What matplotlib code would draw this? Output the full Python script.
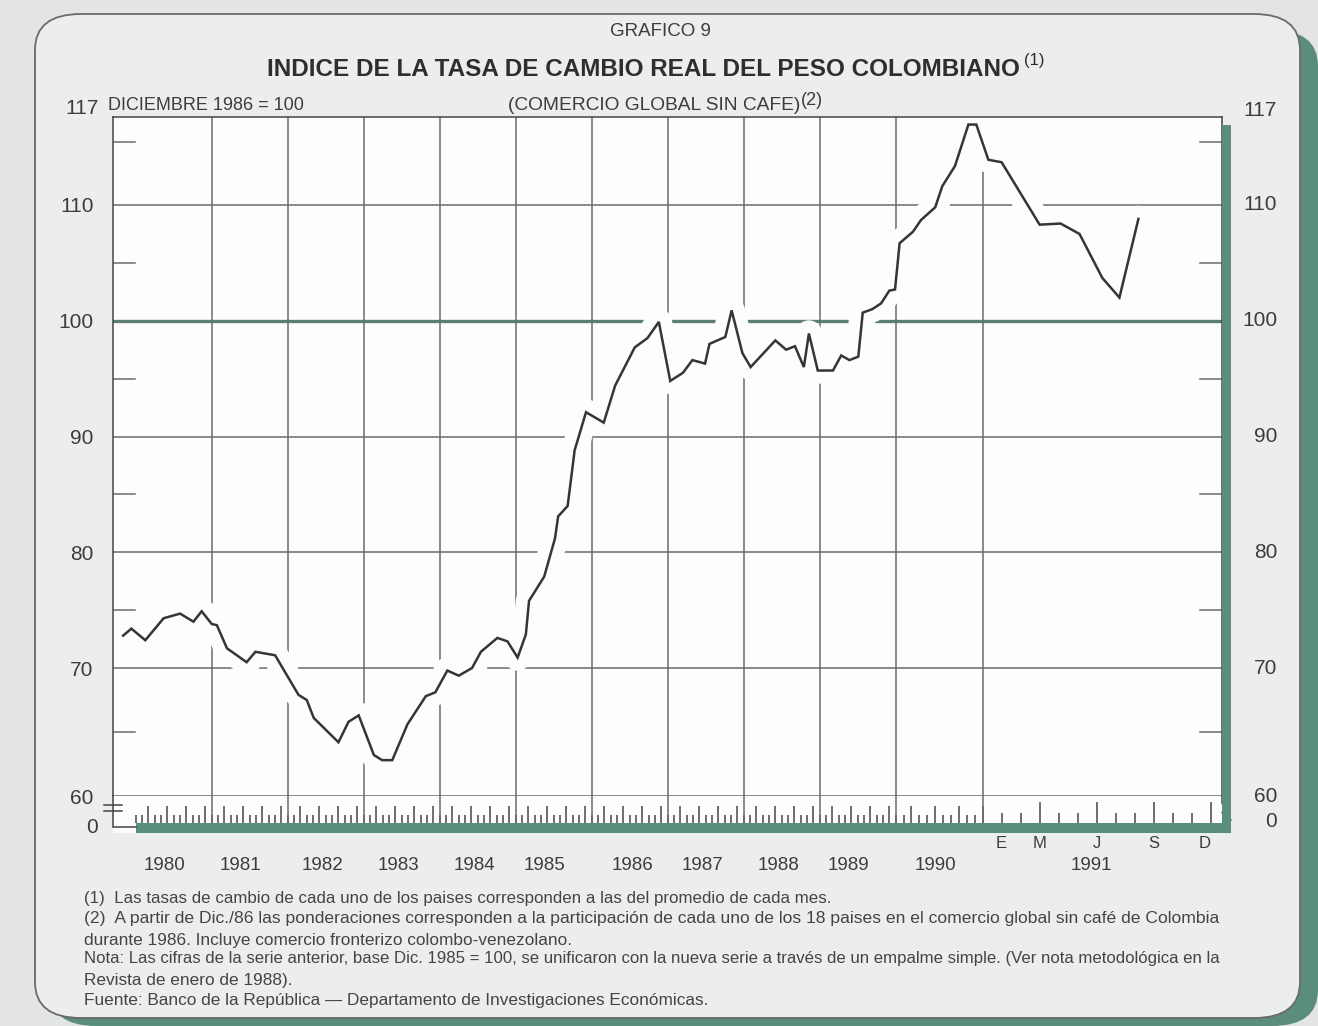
import numpy as np
import matplotlib
matplotlib.use('Agg')
import matplotlib.pyplot as plt
import matplotlib.transforms as mtransforms
from matplotlib.patches import FancyBboxPatch, Rectangle

plt.rcParams['font.family'] = ['Liberation Sans', 'DejaVu Sans']

meses = [-2.0, -0.7, 1.5, 4.4, 7.0, 9.1, 10.4, 12.0, 12.8, 14.4, 17.5, 18.9,
         22.0, 25.7, 27.0, 28.1, 32.0, 33.6, 35.2, 37.6, 38.9, 40.5, 42.9,
         45.8, 47.3, 49.2, 51.0, 53.1, 54.5, 57.1, 58.7, 60.3, 61.6, 62.1,
         64.5, 66.2, 66.7, 68.2, 69.3, 71.1, 73.9, 75.7, 78.8, 80.8, 82.6,
         84.4, 86.4, 87.9, 89.9, 90.6, 93.1, 94.1, 95.8, 97.1, 101.0, 102.7,
         104.1, 105.5, 106.3, 107.7, 110.1, 111.4, 112.7, 114.1, 114.8, 116.3,
         117.7, 119.0, 119.9, 120.5, 122.2, 123.2, 125.0, 125.9, 127.5, 129.2,
         130.2, 131.3, 132.0, 134.0, 135.1, 136.1, 137.3, 138.2, 139.2]
indice = [72.8, 73.4, 72.4, 74.3, 74.7, 74.0, 74.9, 73.8, 73.7, 71.7, 70.5, 71.4,
          71.1, 67.9, 67.5, 66.1, 64.2, 65.8, 66.3, 63.2, 62.8, 62.8, 65.6,
          67.8, 68.1, 69.8, 69.4, 70.0, 71.4, 72.6, 72.3, 70.9, 72.9, 75.8,
          77.9, 81.2, 83.1, 84.0, 88.8, 92.1, 91.2, 94.4, 97.7, 98.5, 99.9,
          94.8, 95.5, 96.6, 96.3, 98.0, 98.6, 100.9, 97.2, 96.0, 98.3, 97.5,
          97.8, 96.0, 98.9, 95.7, 95.7, 97.0, 96.6, 96.9, 100.7, 101.0,
          101.5, 102.6, 102.7, 106.7, 107.7, 108.7, 109.8, 111.5, 113.1, 116.4,
          116.4, 113.6, 113.4, 108.3, 108.4, 107.5, 103.7, 102.0, 108.8]

anios = ['1980', '1981', '1982', '1983', '1984', '1985', '1986', '1987',
         '1988', '1989', '1990', '1991']
mes_anio = [4.5, 16.5, 29.5, 41.5, 53.5, 64.5, 78.5, 89.5, 101.5, 112.5, 125.0, 136.7]
lim_anios = [12, 24, 36, 48, 60, 72, 84, 96, 108, 120, 131]
meses_91 = ['E', 'M', 'J', 'S', 'D']
pos_meses_91 = [132, 134, 137, 140, 142.7]
grid_y = [70, 80, 90, 110]
menor_y = [65, 75, 85, 95, 105, 115]
etiq_y = [60, 70, 80, 90, 100, 110]

notas = [
    "(1)  Las tasas de cambio de cada uno de los paises corresponden a las del promedio de cada mes.",
    "(2)  A partir de Dic./86 las ponderaciones corresponden a la participación de cada uno de los 18 paises en el comercio global sin café de Colombia",
    "durante 1986. Incluye comercio fronterizo colombo-venezolano.",
    "Nota: Las cifras de la serie anterior, base Dic. 1985 = 100, se unificaron con la nueva serie a través de un empalme simple. (Ver nota metodológica en la",
    "Revista de enero de 1988).",
    "Fuente: Banco de la República — Departamento de Investigaciones Económicas.",
]
y_notas = [899, 919, 940, 959, 980, 1000]
tam_notas = [12.2, 12.6, 12.4, 12.1, 12.4, 12.4]

VERDE = '#5b8d7d'
VERDE_LINEA = '#5d7f72'
GRIS = '#6b6b6b'
TINTA = '#353535'
TXT = '#3c3c3c'

W, H = 1318, 1026
fig = plt.figure(figsize=(W / 100, H / 100), dpi=100)
fig.patch.set_facecolor('#e2e5e4')


def fx(x):
    return x / W


def fy(y):
    return 1 - y / H


# marco redondeado con sombra verde
fig.patches.append(FancyBboxPatch((fx(50), fy(1026)), fx(1318) - fx(50), fy(30) - fy(1026),
                                  boxstyle='round,pad=0,rounding_size=0.035',
                                  transform=fig.transFigure, fc=VERDE, ec='none', zorder=-3))
fig.patches.append(FancyBboxPatch((fx(35), fy(1018)), fx(1300) - fx(35), fy(14) - fy(1018),
                                  boxstyle='round,pad=0,rounding_size=0.035',
                                  transform=fig.transFigure, fc='#eceeed', ec='#6a6a6a',
                                  lw=1.3, zorder=-2))

ax = fig.add_axes([fx(113), fy(796), fx(1222) - fx(113), fy(117) - fy(796)])
ax2 = fig.add_axes([fx(113), fy(833), fx(1222) - fx(113), fy(796) - fy(833)], sharex=ax)

# escalas del dibujo original: anios 1980-89 parejos, 1990 algo mas ancho, 1991 ampliado
xk_m = [-12, 0, 120, 131, 143, 155]
xk_p = [-76, 0, 760, 847, 1075, 1303]
yk_v = [50, 60, 70, 110, 117, 127]
yk_p = [-128, 0, 128, 591, 679, 805]


def fwd_x(m):
    return np.interp(m, xk_m, xk_p)


def inv_x(p):
    return np.interp(p, xk_p, xk_m)


def fwd_y(v):
    return np.interp(v, yk_v, yk_p)


def inv_y(p):
    return np.interp(p, yk_p, yk_v)


ax.set_xscale('function', functions=(fwd_x, inv_x))
ax.set_yscale('function', functions=(fwd_y, inv_y))
ax.set_xlim(-3.6, 143.6)
ax.set_ylim(60, 117)
ax.set_facecolor('#fdfdfd')
ax2.set_facecolor('#fdfdfd')

for v in grid_y:
    ax.axhline(v, color=GRIS, lw=1.1, zorder=1)
ax.axhline(100, color=VERDE_LINEA, lw=2.4, zorder=1)
for m in lim_anios:
    ax.axvline(m, color=GRIS, lw=1.1, zorder=1)
bl = mtransforms.blended_transform_factory(ax.transAxes, ax.transData)
for v in menor_y:
    ax.plot([0, 0.02], [v, v], color=GRIS, lw=1.1, transform=bl, zorder=1)
    ax.plot([0.98, 1], [v, v], color=GRIS, lw=1.1, transform=bl, zorder=1)

# la linea del dibujo interrumpe la cuadricula a su paso
ax.plot(meses, indice, color='#fdfdfd', lw=19, solid_capstyle='round',
        solid_joinstyle='round', zorder=2)
ax.plot(meses, indice, color=TINTA, lw=1.8, solid_joinstyle='miter', zorder=3)

ax.set_xticks([])
ax.set_yticks(etiq_y, [str(v) for v in etiq_y])
ax.tick_params(axis='y', length=0, pad=14, labelsize=15, labelcolor=TXT)
for v in etiq_y:
    ax.text(1.0497, v, str(v), transform=bl, ha='right', va='center',
            fontsize=15, color=TXT)
ax.annotate('117', xy=(0, 117), xycoords=bl, xytext=(-14, 8), textcoords='offset pixels',
            ha='right', va='center', fontsize=15, color=TXT, annotation_clip=False)
ax.annotate('117', xy=(1.0497, 117), xycoords=bl, xytext=(0, 7), textcoords='offset pixels',
            ha='right', va='center', fontsize=15, color=TXT, annotation_clip=False)
for s in ['top', 'left', 'right']:
    ax.spines[s].set_color('#444444')
    ax.spines[s].set_linewidth(1.1)
    ax.spines[s].set_zorder(4)
ax.spines['bottom'].set_color(GRIS)
ax.spines['bottom'].set_linewidth(1.1)

# franja inferior con marcas mensuales
ax2.set_ylim(0, 1)
ax2.set_yticks([])
ax2.tick_params(axis='x', length=0, labelbottom=False)
for s in ['top', 'right', 'bottom']:
    ax2.spines[s].set_visible(False)
ax2.spines['left'].set_bounds(0.15, 1)
ax2.spines['left'].set_color('#444444')
ax2.spines['left'].set_linewidth(1.1)
ax2.fill_between([0, 143.6], 0, 0.27, color=VERDE, lw=0)
ax2.plot([-3.6, 0], [0.15, 0.15], color='#444444', lw=1.1)
bl2 = mtransforms.blended_transform_factory(ax2.transAxes, ax2.transData)
ax2.plot([-0.008, 0.008], [0.76, 0.76], color='#444444', lw=1.1, transform=bl2, clip_on=False)
ax2.plot([-0.008, 0.008], [0.6, 0.6], color='#444444', lw=1.1, transform=bl2, clip_on=False)
ax2.plot([1.0, 1.0, 1.004, 1.0, 1.004, 1.008], [1.0, 0.8, 0.7, 0.55, 0.42, 0.35],
         color='#444444', lw=1.1, transform=bl2, clip_on=False)

todos = np.arange(0, 144)
corto = [m for m in todos if m % 3 != 2 and m < 132]
largo = [m for m in todos if m % 3 == 2 and m < 132]
corto91 = [m for m in todos if m % 3 != 2 and m >= 132]
largo91 = [m for m in todos if m % 3 == 2 and m >= 132]
ax2.vlines(corto, 0.27, 0.48, color='#555555', lw=1.2)
ax2.vlines(largo, 0.27, 0.74, color='#555555', lw=1.2)
ax2.vlines(corto91, 0.27, 0.55, color='#555555', lw=1.2)
ax2.vlines(largo91, 0.27, 0.85, color='#555555', lw=1.2)
ax2.vlines(lim_anios, 0.27, 1, color=GRIS, lw=1.1)

ax2.text(-0.014, 0.15, '0', transform=bl2, ha='right', va='center', fontsize=15, color=TXT)
ax2.text(1.0497, 0.3, '0', transform=bl2, ha='right', va='center', fontsize=15, color=TXT)

blx = mtransforms.blended_transform_factory(ax2.transData, ax2.transAxes)
for lab, m in zip(anios, mes_anio):
    ax2.text(m, -0.88, lab, transform=blx, ha='center', va='center', fontsize=13.5, color=TXT)
for lab, m in zip(meses_91, pos_meses_91):
    ax2.text(m, -0.28, lab, transform=blx, ha='center', va='center', fontsize=12, color=TXT)

# barra verde a la derecha del grafico
fig.patches.append(Rectangle((fx(1222), fy(833)), fx(9), fy(125) - fy(833),
                             transform=fig.transFigure, fc=VERDE, ec='none', zorder=2))

# textos
fig.text(fx(660), fy(32), 'GRAFICO 9', ha='center', va='center', fontsize=13.5, color=TXT)
t1 = fig.text(fx(643), fy(69), 'INDICE DE LA TASA DE CAMBIO REAL DEL PESO COLOMBIANO',
              ha='center', va='center', fontsize=17.5, fontweight='bold', color='#2e2e2e')
ax.annotate('(1)', xy=(1, 0.55), xycoords=t1, xytext=(5, 0), textcoords='offset pixels',
            ha='left', va='bottom', fontsize=12, color='#2e2e2e',
            annotation_clip=False)
fig.text(fx(108), fy(106), 'DICIEMBRE 1986 = 100', ha='left', va='center',
         fontsize=13, color=TXT)
t2 = fig.text(fx(654), fy(105), '(COMERCIO GLOBAL SIN CAFE)', ha='center', va='center',
              fontsize=13.8, color=TXT)
ax.annotate('(2)', xy=(1, 0.25), xycoords=t2, xytext=(1, 0), textcoords='offset pixels',
            ha='left', va='bottom', fontsize=13, color=TXT, annotation_clip=False)

for txt, y, tam in zip(notas, y_notas, tam_notas):
    fig.text(fx(84), fy(y), txt, ha='left', va='center', fontsize=tam, color='#444444')

fig.savefig('out.png', dpi=100, facecolor=fig.get_facecolor())
